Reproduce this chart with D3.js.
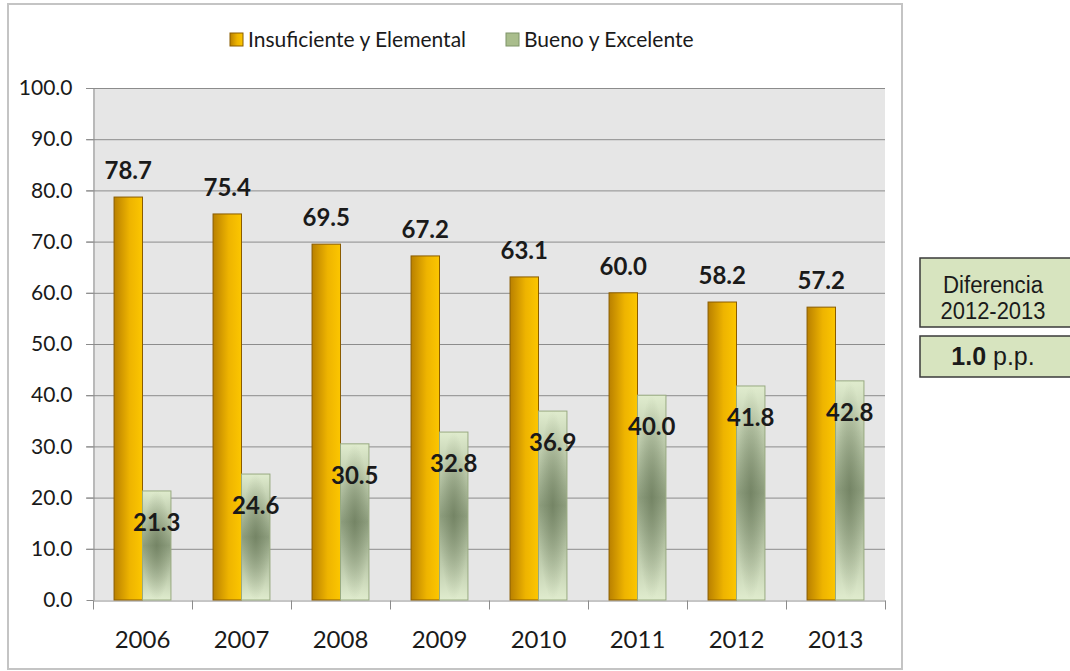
<!DOCTYPE html>
<meta charset="utf-8">
<style>
body { margin: 0; background: #fff; }
svg text { font-family: Lato, "Open Sans", sans-serif; fill: #1a1a1a; }
.grid line { stroke: #8c8c8c; }
.axis path, .axis line { stroke: #8c8c8c; }
.side text { font-family: "Liberation Sans Narrow", "Liberation Sans", Arial, sans-serif; fill: #1a1a1a; }
</style>
<svg width="1070" height="671"></svg>
<script src="https://d3js.org/d3.v7.min.js"></script>
<script>

var years = ["2006", "2007", "2008", "2009", "2010", "2011", "2012", "2013"];
var insuficiente = [78.7, 75.4, 69.5, 67.2, 63.1, 60.0, 58.2, 57.2];
var bueno = [21.3, 24.6, 30.5, 32.8, 36.9, 40.0, 41.8, 42.8];
var series = ["Insuficiente y Elemental", "Bueno y Excelente"];
var yTicks = [0, 10, 20, 30, 40, 50, 60, 70, 80, 90, 100];

var svg = d3.select("svg");

var x = d3.scaleBand().domain(years).range([93, 885]);
var x1 = d3.scaleBand().domain(series).range([0, x.bandwidth()]).paddingOuter(0.74);
var y = d3.scaleLinear().domain([0, 100]).range([600, 88]);

// gradients
var defs = svg.append("defs");
var og = defs.append("linearGradient").attr("id", "gOrange");
og.append("stop").attr("offset", "0%").attr("stop-color", "#b98000");
og.append("stop").attr("offset", "55%").attr("stop-color", "#eeb400");
og.append("stop").attr("offset", "100%").attr("stop-color", "#fcc600");

var gg = defs.append("linearGradient").attr("id", "gGreen")
    .attr("x1", 0).attr("y1", 0).attr("x2", 0).attr("y2", 1);
gg.append("stop").attr("offset", "0%").attr("stop-color", "#e0ecce");
gg.append("stop").attr("offset", "50%").attr("stop-color", "#8f9f7f");
gg.append("stop").attr("offset", "100%").attr("stop-color", "#e0ecce");

var gr = defs.append("radialGradient").attr("id", "gGreenShade");
gr.append("stop").attr("offset", "0%").attr("stop-color", "#5a6a4b").attr("stop-opacity", 0.5);
gr.append("stop").attr("offset", "100%").attr("stop-color", "#5a6a4b").attr("stop-opacity", 0);

// outer frame
svg.append("rect").attr("x", 8).attr("y", 4).attr("width", 894).attr("height", 665)
    .attr("fill", "#fff").attr("stroke", "#c4c4c4").attr("stroke-width", 2);

// plot background
svg.append("rect").attr("x", 93).attr("y", y(100)).attr("width", 792).attr("height", y(0) - y(100))
    .attr("fill", "#e6e6e6");

// gridlines
svg.append("g").attr("class", "grid")
  .selectAll("line").data(yTicks.slice(1)).enter().append("line")
    .attr("x1", 86).attr("x2", 885)
    .attr("y1", d => y(d) + 0.5).attr("y2", d => y(d) + 0.5);

// y axis
var yAxis = svg.append("g").attr("class", "axis")
    .attr("transform", "translate(93.5,0)")
    .call(d3.axisLeft(y).tickValues(yTicks).tickFormat(d3.format(".1f")).tickSize(7).tickSizeOuter(0));
yAxis.selectAll("text").attr("x", -21).attr("font-size", 21).attr("fill", "#1a1a1a");

// x axis
var xAxis = svg.append("g").attr("class", "axis")
    .attr("transform", "translate(0," + (y(0) + 0.5) + ")")
    .call(d3.axisBottom(x).tickSize(0).tickSizeOuter(0));
xAxis.selectAll("text").attr("y", 47).attr("dy", 0).attr("font-size", 24).attr("fill", "#1a1a1a");
xAxis.selectAll(".bound").data(years.concat([""])).enter().append("line")
    .attr("class", "bound")
    .attr("x1", (d, i) => 93.5 + i * x.step()).attr("x2", (d, i) => 93.5 + i * x.step())
    .attr("y1", 0).attr("y2", 9);

// bars
var groups = svg.append("g").selectAll("g").data(years).enter().append("g")
    .attr("transform", d => "translate(" + x(d) + ",0)");

groups.append("rect")
    .attr("x", x1(series[0]))
    .attr("y", (d, i) => y(insuficiente[i]))
    .attr("width", x1.bandwidth())
    .attr("height", (d, i) => y(0) - y(insuficiente[i]))
    .attr("fill", "url(#gOrange)").attr("stroke", "#8a5c00").attr("stroke-width", 1);

groups.append("rect")
    .attr("x", x1(series[1]))
    .attr("y", (d, i) => y(bueno[i]))
    .attr("width", x1.bandwidth())
    .attr("height", (d, i) => y(0) - y(bueno[i]))
    .attr("fill", "url(#gGreen)").attr("stroke", "#98aa80").attr("stroke-width", 1);

groups.append("rect")
    .attr("x", x1(series[1]))
    .attr("y", (d, i) => y(bueno[i]))
    .attr("width", x1.bandwidth())
    .attr("height", (d, i) => y(0) - y(bueno[i]))
    .attr("fill", "url(#gGreenShade)");

// value labels
groups.append("text")
    .attr("x", x1(series[0]) + x1.bandwidth() / 2)
    .attr("y", (d, i) => y(insuficiente[i]) - 18)
    .attr("text-anchor", "middle").attr("font-size", 24).attr("font-weight", "bold")
    .text((d, i) => insuficiente[i].toFixed(1));

groups.append("text")
    .attr("x", x1(series[1]) + x1.bandwidth() / 2)
    .attr("y", (d, i) => y(bueno[i]) + 40)
    .attr("text-anchor", "middle").attr("font-size", 24).attr("font-weight", "bold")
    .text((d, i) => bueno[i].toFixed(1));

// legend
var legendX = [230, 506];
var legendFill = ["url(#gOrange)", "#a9bd8c"];
var legendStroke = ["#8a5c00", "#7f9468"];
var leg = svg.append("g").selectAll("g").data(series).enter().append("g")
    .attr("transform", (d, i) => "translate(" + legendX[i] + ",33)");
leg.append("rect").attr("width", 13).attr("height", 13)
    .attr("fill", (d, i) => legendFill[i]).attr("stroke", (d, i) => legendStroke[i]);
leg.append("text").attr("x", 18).attr("y", 14).attr("font-size", 21).text(d => d);

// side boxes
var side = svg.append("g").attr("class", "side");
side.append("rect").attr("x", 920).attr("y", 258).attr("width", 160).attr("height", 69)
    .attr("fill", "#d7e4bf").attr("stroke", "#3a3a3a").attr("stroke-width", 1.5);
side.append("text").attr("x", 993).attr("y", 293).attr("text-anchor", "middle")
    .attr("font-size", 23).attr("textLength", 100).attr("lengthAdjust", "spacingAndGlyphs")
    .text("Diferencia");
side.append("text").attr("x", 993).attr("y", 319).attr("text-anchor", "middle")
    .attr("font-size", 23).attr("textLength", 105).attr("lengthAdjust", "spacingAndGlyphs")
    .text("2012-2013");
side.append("rect").attr("x", 920).attr("y", 336).attr("width", 160).attr("height", 41)
    .attr("fill", "#d7e4bf").attr("stroke", "#3a3a3a").attr("stroke-width", 1.5);
var pp = side.append("text").attr("x", 993).attr("y", 365).attr("text-anchor", "middle")
    .attr("font-size", 25);
pp.append("tspan").attr("font-weight", "bold").text("1.0");
pp.append("tspan").text(" p.p.");

</script>
